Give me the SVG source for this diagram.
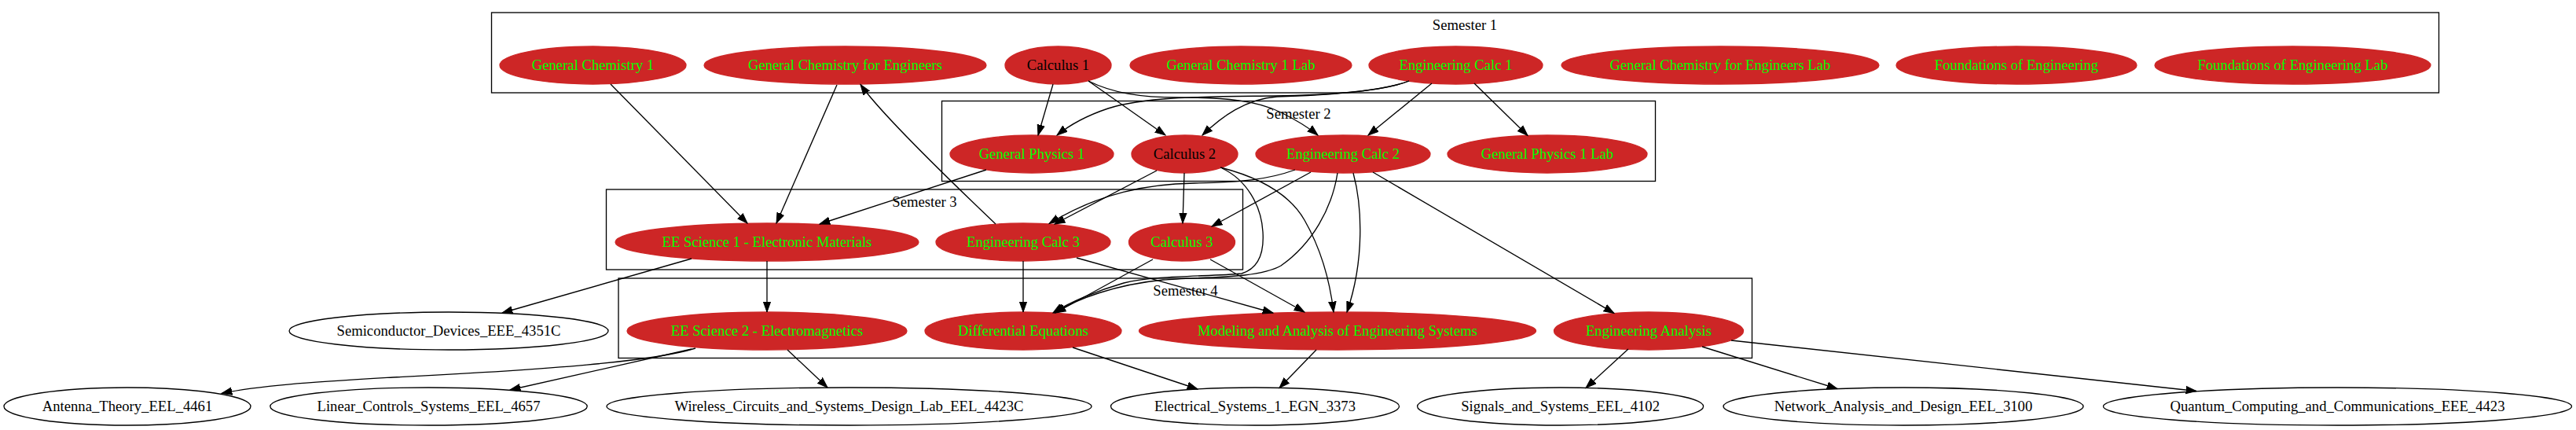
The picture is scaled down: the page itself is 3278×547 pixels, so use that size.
<svg xmlns="http://www.w3.org/2000/svg" width="3278" height="547" viewBox="0 0 3278 547">
<defs>
<marker id="ah" markerUnits="userSpaceOnUse" markerWidth="16" markerHeight="12" refX="13.3" refY="6" orient="auto">
<path d="M0,1.3 L13.3,6 L0,10.7 Z" fill="#000" stroke="#000" stroke-width="1"/>
</marker>
<style>
.cl{fill:none;stroke:#000;stroke-width:1.33}
.cll{font-family:"Liberation Serif","Times New Roman",serif;font-size:18.67px;fill:#000;text-anchor:middle}
.rn ellipse{fill:#cd2626;stroke:#cd2626;stroke-width:1.33}
.rn text{font-family:"Liberation Serif","Times New Roman",serif;font-size:18.67px;fill:#00ff00;text-anchor:middle}
.rn text.bk{fill:#000}
.wn ellipse{fill:#fff;stroke:#000;stroke-width:1.33}
.wn text{font-family:"Liberation Serif","Times New Roman",serif;font-size:18.67px;fill:#000;text-anchor:middle}
#edges path{fill:none;stroke:#000;stroke-width:1.33;marker-end:url(#ah)}
</style>
</defs>
<rect width="3278" height="547" fill="#fff"/>
<g id="clusters">
<g id="sem1"><rect class="cl" x="625.5" y="16" width="2478" height="102"/><text class="cll" x="1864" y="38">Semester 1</text></g>
<g id="sem2"><rect class="cl" x="1198.5" y="128.5" width="908" height="102"/><text class="cll" x="1652.5" y="150.5">Semester 2</text></g>
<g id="sem3"><rect class="cl" x="771.5" y="241" width="810" height="102"/><text class="cll" x="1176.5" y="263">Semester 3</text></g>
<g id="sem4"><rect class="cl" x="787" y="354" width="1442.5" height="101.5"/><text class="cll" x="1508.5" y="376">Semester 4</text></g>
</g>
<g id="n_gc1" class="rn"><ellipse cx="754.5" cy="83" rx="118.5" ry="24"/><text x="754.5" y="88.6">General Chemistry 1</text></g>
<g id="n_gce" class="rn"><ellipse cx="1075.5" cy="83" rx="179.5" ry="24"/><text x="1075.5" y="88.6">General Chemistry for Engineers</text></g>
<g id="n_calc1" class="rn"><ellipse cx="1346.5" cy="83" rx="67.5" ry="24"/><text class="bk" x="1346.5" y="88.6">Calculus 1</text></g>
<g id="n_gc1lab" class="rn"><ellipse cx="1579" cy="83" rx="141" ry="24"/><text x="1579" y="88.6">General Chemistry 1 Lab</text></g>
<g id="n_ec1" class="rn"><ellipse cx="1852.5" cy="83" rx="110.5" ry="24"/><text x="1852.5" y="88.6">Engineering Calc 1</text></g>
<g id="n_gcelab" class="rn"><ellipse cx="2189" cy="83" rx="202" ry="24"/><text x="2189" y="88.6">General Chemistry for Engineers Lab</text></g>
<g id="n_foe" class="rn"><ellipse cx="2566" cy="83" rx="153" ry="24"/><text x="2566" y="88.6">Foundations of Engineering</text></g>
<g id="n_foelab" class="rn"><ellipse cx="2917.5" cy="83" rx="175.5" ry="24"/><text x="2917.5" y="88.6">Foundations of Engineering Lab</text></g>
<g id="n_gp1" class="rn"><ellipse cx="1313" cy="196" rx="104" ry="24"/><text x="1313" y="201.6">General Physics 1</text></g>
<g id="n_calc2" class="rn"><ellipse cx="1507.5" cy="196" rx="67.5" ry="24"/><text class="bk" x="1507.5" y="201.6">Calculus 2</text></g>
<g id="n_ec2" class="rn"><ellipse cx="1709" cy="196" rx="111" ry="24"/><text x="1709" y="201.6">Engineering Calc 2</text></g>
<g id="n_gp1lab" class="rn"><ellipse cx="1969" cy="196" rx="127" ry="24"/><text x="1969" y="201.6">General Physics 1 Lab</text></g>
<g id="n_ees1" class="rn"><ellipse cx="976" cy="308" rx="193" ry="24"/><text x="976" y="313.6">EE Science 1 - Electronic Materials</text></g>
<g id="n_ec3" class="rn"><ellipse cx="1302" cy="308" rx="111" ry="24"/><text x="1302" y="313.6">Engineering Calc 3</text></g>
<g id="n_calc3" class="rn"><ellipse cx="1504" cy="308" rx="67.5" ry="24"/><text x="1504" y="313.6">Calculus 3</text></g>
<g id="n_ees2" class="rn"><ellipse cx="976" cy="421" rx="178" ry="24"/><text x="976" y="426.6">EE Science 2 - Electromagnetics</text></g>
<g id="n_diffeq" class="rn"><ellipse cx="1302" cy="421" rx="125" ry="24"/><text x="1302" y="426.6">Differential Equations</text></g>
<g id="n_model" class="rn"><ellipse cx="1702" cy="421" rx="252.5" ry="24"/><text x="1702" y="426.6">Modeling and Analysis of Engineering Systems</text></g>
<g id="n_ea" class="rn"><ellipse cx="2098" cy="421" rx="120.5" ry="24"/><text x="2098" y="426.6">Engineering Analysis</text></g>
<g id="n_semi" class="wn"><ellipse cx="571" cy="421" rx="203" ry="24"/><text x="571" y="426.6">Semiconductor_Devices_EEE_4351C</text></g>
<g id="n_ant" class="wn"><ellipse cx="162" cy="517" rx="157" ry="24"/><text x="162" y="522.6">Antenna_Theory_EEL_4461</text></g>
<g id="n_lin" class="wn"><ellipse cx="545.5" cy="517" rx="201.7" ry="24"/><text x="545.5" y="522.6">Linear_Controls_Systems_EEL_4657</text></g>
<g id="n_wir" class="wn"><ellipse cx="1080.5" cy="517" rx="308.5" ry="24"/><text x="1080.5" y="522.6">Wireless_Circuits_and_Systems_Design_Lab_EEL_4423C</text></g>
<g id="n_elec" class="wn"><ellipse cx="1597" cy="517" rx="183.5" ry="24"/><text x="1597" y="522.6">Electrical_Systems_1_EGN_3373</text></g>
<g id="n_sig" class="wn"><ellipse cx="1985.6" cy="517" rx="182" ry="24"/><text x="1985.6" y="522.6">Signals_and_Systems_EEL_4102</text></g>
<g id="n_net" class="wn"><ellipse cx="2422" cy="517" rx="229" ry="24"/><text x="2422" y="522.6">Network_Analysis_and_Design_EEL_3100</text></g>
<g id="n_qc" class="wn"><ellipse cx="2974.5" cy="517" rx="298" ry="24"/><text x="2974.5" y="522.6">Quantum_Computing_and_Communications_EEE_4423</text></g>
<g id="edges">
<path d="M1340,107 L1321,172"/>
<path d="M1385,103 L1483,172"/>
<path d="M1385,103 C1415,118 1450,124 1500,124 C1560,124 1600,128 1630,143 C1650,153 1665,162 1677,172"/>
<path d="M1793,103 C1760,116 1690,121 1620,122 C1540,123 1460,122 1410,138 C1380,148 1360,160 1345,172"/>
<path d="M1793,103 C1760,116 1690,121 1625,123 C1585,126 1555,148 1530,172"/>
<path d="M1822,106 L1741,172"/>
<path d="M1876,106 L1944,172.5"/>
<path d="M777,107 L951,284"/>
<path d="M1065,108 L988,284"/>
<path d="M1255,216 L1043,285"/>
<path d="M1267,285 C1225,245 1125,150 1095,107.5"/>
<path d="M1472,217 L1342,285"/>
<path d="M1648,216 C1615,228 1580,232 1520,233 C1460,234 1400,245 1335,284.5"/>
<path d="M1507,220 L1505,284"/>
<path d="M1668,219 L1542,288"/>
<path d="M976,332 L976,397"/>
<path d="M880,329 L639,398"/>
<path d="M1302,332 L1302,397"/>
<path d="M1467,330 L1343,398"/>
<path d="M1555,214 C1585,228 1605,260 1607,295 C1609,325 1600,342 1580,348 C1540,352 1470,350 1430,360 C1395,370 1360,385 1340,398"/>
<path d="M1702,220 C1695,265 1670,310 1630,338 C1600,355 1530,352 1480,356 C1420,362 1370,380 1342,398"/>
<path d="M1553,213 C1600,225 1640,245 1660,280 C1680,315 1692,355 1697,397"/>
<path d="M1722,220 C1733,260 1737,330 1714,397"/>
<path d="M1370,328 L1620,398"/>
<path d="M1540,330 L1660,397"/>
<path d="M1747,219 L2054,398.5"/>
<path d="M885,443 C830,460 700,470 500,480 C400,486 330,490 282,500.5"/>
<path d="M880,444 L649,496"/>
<path d="M1002,445 L1053,493"/>
<path d="M1365,442 L1524,495"/>
<path d="M1675,445 L1628,493.5"/>
<path d="M2072,444 L2018,493.5"/>
<path d="M2166,441 L2338,494.5"/>
<path d="M2203,433 L2795,497.5"/>
</g>
</svg>
